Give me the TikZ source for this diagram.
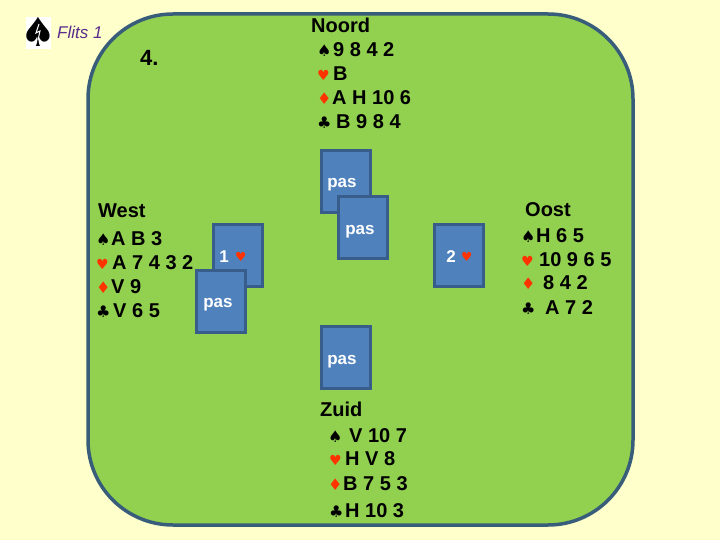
\documentclass[tikz,border=0pt]{standalone}
\usepackage{fontspec}
\usepackage{xcolor}
\setmainfont{Liberation Sans}
\newfontfamily\suitfont{DejaVu Sans}
\definecolor{mcream}{HTML}{FFFFCC}
\definecolor{mgreen}{HTML}{92D050}
\definecolor{mtable}{HTML}{385D7A}
\definecolor{mcard}{HTML}{4F81BD}
\definecolor{mcardline}{HTML}{385D8A}
\definecolor{mred}{HTML}{FF3300}
\definecolor{mpurple}{HTML}{5A2D8C}
\newcommand{\hrtmark}{{\fontsize{14}{14}\selectfont ♥}}
\tikzset{cardbox/.style = {draw=mcardline, fill=mcard, line width=3pt, inner sep=0,
                           minimum width=49pt, minimum height=62pt},
         cardtext/.style = {text=white, inner sep=0, anchor=base,
                            font=\fontsize{17}{17}\selectfont\bfseries},
         handtext/.style = {inner sep=0, anchor=base west,
                            font=\fontsize{20}{20}\selectfont\bfseries},
         suitmark/.style = {inner sep=0, anchor=base west,
                            font=\fontsize{16}{16}\selectfont\suitfont}}

\begin{document}
\begin{tikzpicture}[x=1pt, y=-1pt]
      \useasboundingbox (0, 0) rectangle (720, 540);
      \fill [mcream] (0, 0) rectangle (720, 540);
      \draw [draw=mtable, fill=mgreen, line width=3.5pt, rounded corners=85pt] (88, 14) rectangle (633, 525);

      % corner logo
      \fill [white] (26, 17) rectangle (51, 49);
      \node [inner sep=0, anchor=base, font=\fontsize{40}{40}\selectfont\suitfont] (logo) at (38.5, 47) {♠};
      \draw [white, line width=1pt] (39, 24) -- (36, 33) -- (40, 31) -- (38, 40);
      \node [inner sep=0, anchor=base west, text=mpurple, font=\fontsize{17}{17}\selectfont\itshape] (flits) at (57, 39) {Flits 1};
      \node [inner sep=0, anchor=base west, font=\fontsize{22}{22}\selectfont\bfseries] (board) at (140, 66) {4.};

      % bidding cards
      \foreach \name/\cx/\cy/\lx/\ly/\bid in {north/346/182/342/188, east2/362.5/227.5/360/234, west/238/255.5/0/0, westb/221/301/218/307, east/459/255.5/0/0, south/345.5/357.5/342/364} {
        \node [cardbox] (\name) at (\cx, \cy) {};
        \ifdim \lx pt > 0pt
          \node [cardtext] (\name text) at (\lx, \ly) {pas};
        \fi
      }
      \node [cardtext] (westnum) at (224, 262) {1};
      \node [suitmark, text=mred, font=\fontsize{12.5}{13}\selectfont\suitfont] (westsuit) at (235, 261) {♥};
      \node [cardtext] (eastnum) at (451, 262) {2};
      \node [suitmark, text=mred, font=\fontsize{12.5}{13}\selectfont\suitfont] (eastsuit) at (461, 261) {♥};

      % hands
      \foreach \name/\hx/\hy/\hand in {noord/311/33/Noord, west/98/218/West, oost/525/217/Oost, zuid/320/416/Zuid} {
        \node [handtext] (\name) at (\hx, \hy) {\hand};
      }
      \foreach \name/\hx/\hy/\hand in {noords/333/57/9 8 4 2, noordh/333/81/B, noordd/332/105/A H 10 6, noordc/336/129/B 9 8 4,
                                       wests/111/245/A B 3, westh/112/269/A 7 4 3 2, westd/111/293/V 9, westc/113/317/V 6 5,
                                       oosts/536/242/H 6 5, oosth/539/266/10 9 6 5, oostd/543/289/8 4 2, oostc/545/314/A 7 2,
                                       zuids/349/442/V 10 7, zuidh/345/465/H V 8, zuidd/343/490/B 7 5 3, zuidc/345/517/H 10 3} {
        \node [handtext] (\name) at (\hx, \hy) {\hand};
      }
      \foreach \name/\sx/\sy/\col/\mark in {noordsm/317/57/black/♠, noordhm/317/81/mred/\hrtmark, noorddm/317/105/mred/♦, noordcm/317/129/black/♣,
                                            westsm/96/245/black/♠, westhm/96/269/mred/\hrtmark, westdm/96/293/mred/♦, westcm/96/317/black/♣,
                                            oostsm/521/242/black/♠, oosthm/521/266/mred/\hrtmark, oostdm/521/289/mred/♦, oostcm/521/314/black/♣,
                                            zuidsm/328/442/black/♠, zuidhm/329/465/mred/\hrtmark, zuiddm/328/490/mred/♦, zuidcm/329/517/black/♣} {
        \node [suitmark, text=\col] (\name) at (\sx, \sy) {\mark};
      }
    \end{tikzpicture}
\end{document}
